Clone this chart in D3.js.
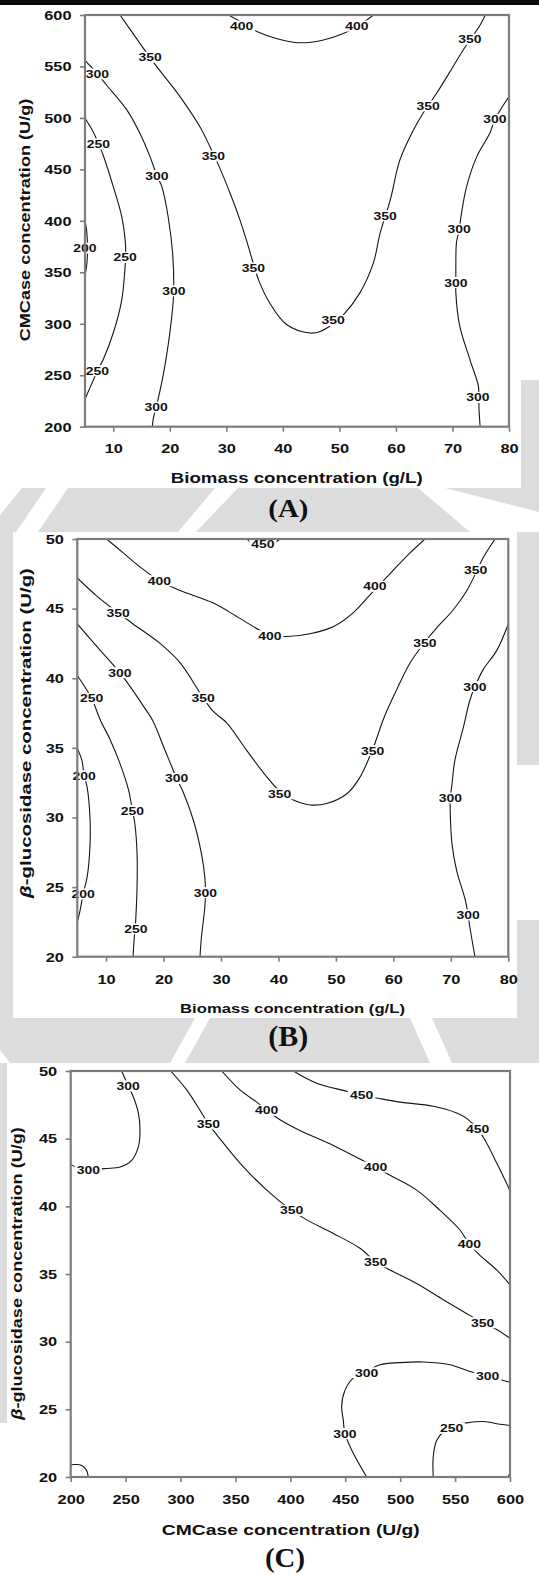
<!DOCTYPE html>
<html>
<head>
<meta charset="utf-8">
<script src="https://cdn.jsdelivr.net/npm/d3@7"></script>
<style>
  body { margin: 0; background: #fff; }
  svg { display: block; }
</style>
</head>
<body>
<svg id="fig" width="539" height="1575"></svg>
<script>
// ---------- tick values ----------
const biomassTicks = [10, 20, 30, 40, 50, 60, 70, 80];
const cmcaseTicks = [200, 250, 300, 350, 400, 450, 500, 550, 600];
const glucosidaseTicks = [20, 25, 30, 35, 40, 45, 50];

// ---------- (A) biomass (g/L) vs CMCase (U/g) : contour traces [x, y] ----------
const a200 = [[5, 400], [5.3, 390], [5.45, 373], [5.3, 357], [5, 347]];
const a250 = [[5, 499.7], [6.3, 488], [7.4, 475], [8.2, 464], [10, 433.3], [11.5, 404.2], [12.1, 381.6],
  [12.2, 364.4], [12.1, 355.6], [11.5, 323.3], [10, 291], [8.2, 265], [7.2, 254.4], [6.5, 245.6], [5.2, 229.4], [5, 227]];
const a300L = [[5, 556], [6, 550], [7.2, 542.7], [8.8, 532], [12.4, 507.8], [14.7, 485.1], [16.5, 462.4], [17.7, 444],
  [18.6, 433.3], [19.7, 404.2], [20.5, 368.6], [20.7, 332], [20.6, 321.7], [20, 290.9], [18.9, 252.1], [17.6, 219],
  [17.1, 208.4], [16.9, 200]];
const a300R = [[80, 520.7], [78.5, 508], [77.5, 498.7], [76.6, 485.1], [74.3, 462.4], [72.5, 433.3], [71.6, 407.5],
  [71.2, 391.9], [70.7, 378.3], [70.6, 355.6], [70.6, 340.1], [70.6, 329.8], [71.3, 297.4], [73.1, 265], [74.6, 239],
  [74.65, 228], [74.7, 216.5], [74.9, 200]];
const a350 = [[11.2, 600], [14, 578], [17.7, 549.8], [21.8, 520.7], [25.3, 491.6], [27.1, 472.1], [28.6, 454.4],
  [30.65, 427], [32.4, 401], [33.9, 375], [35.7, 342.7], [37.7, 320], [40.7, 299], [44.8, 291], [46.6, 292.5],
  [48.9, 300], [50.7, 308.7], [53.6, 329.8], [56, 358.9], [57.2, 388], [59, 420.4], [60.7, 459.2], [63.1, 488.3],
  [64.8, 504.6], [67.2, 524], [70.1, 549.8], [71.9, 566], [74.9, 590.3], [75.8, 600]];
const a400 = [[30.4, 600], [33, 592], [35.4, 584], [39, 577], [43, 573], [47, 575.5], [50.7, 582], [53.5, 590], [56, 600]];
const labelsA = [
  [32.7, 589.3, "400"], [53.1, 589.3, "400"],
  [16.5, 559, "350"], [27.7, 463, "350"], [34.8, 354.1, "350"], [48.9, 303.2, "350"],
  [58.1, 404.9, "350"], [65.7, 511.7, "350"], [73.1, 576.4, "350"],
  [7.2, 542.7, "300"], [17.7, 444, "300"], [20.7, 332, "300"], [17.6, 219, "300"],
  [77.5, 498.7, "300"], [71.2, 391.9, "300"], [70.6, 340.1, "300"], [74.5, 228.4, "300"],
  [7.35, 474.8, "250"], [12.1, 364.4, "250"], [7.2, 254.4, "250"],
  [5, 373.5, "200"]
];

// ---------- (B) biomass (g/L) vs beta-glucosidase (U/g) ----------
const b200 = [[5, 34.96], [5.8, 34.1], [6.2, 33], [6.7, 32.2], [7.2, 30.05], [7.2, 27.9], [6.7, 25.7], [6, 24.5],
  [5.5, 23.35], [5, 22.5]];
const b250 = [[5, 40.2], [7.5, 38.55], [9, 37], [10.7, 35.6], [12.4, 33.9], [13.9, 32], [14.6, 30.5], [15, 29.6],
  [15.4, 27.4], [15.4, 25], [15.2, 22.9], [15.1, 22.2], [14.9, 21.3], [14.7, 20]];
const b300L = [[5, 43.9], [9, 42], [12.4, 40.4], [14.2, 39.4], [16.5, 38], [18.2, 36.9], [20, 35.1], [22.3, 32.8],
  [23.4, 31.85], [25.2, 29.8], [26.6, 27.4], [27.2, 25.7], [27.3, 24.6], [27.2, 23.6], [26.6, 21.4], [26.35, 20]];
const b300R = [[80, 43.9], [78, 42], [75.6, 40.6], [74.2, 39.4], [73.3, 38.4], [72.2, 36.5], [70.7, 34.1], [70.2, 32.4],
  [69.9, 31.4], [69.9, 30.3], [70.2, 28.1], [71, 26.2], [72.5, 24.1], [73, 23], [73.3, 22.15], [74.2, 20]];
const b350 = [[5, 47.2], [8.4, 45.9], [12.1, 44.7], [14.7, 43.9], [19.4, 42.5], [22.9, 41.1], [26.9, 38.6], [28.7, 37.6],
  [31, 36.8], [34.5, 34.8], [38, 32.9], [40.2, 31.9], [42.6, 31.25], [45.5, 30.9], [48.4, 31], [51.9, 31.7],
  [54.2, 32.9], [56.4, 34.9], [58.4, 37.2], [60.6, 39.2], [62.9, 41.1], [65.5, 42.6], [67.5, 43.6], [70.4, 44.9],
  [72.8, 46.3], [75.7, 48.7], [77.7, 50]];
const b400 = [[10.1, 50], [13, 49], [15.9, 48], [19.3, 47], [22.9, 46.3], [28.7, 45.4], [33.3, 44.3], [38.5, 43.1],
  [41.4, 43], [45.5, 43.2], [49.5, 43.7], [53, 44.7], [56.6, 46.3], [59.4, 47.5], [62.9, 49], [65.5, 50]];
const b450 = [[34.5, 50], [35.5, 49.72], [37.3, 49.65], [39.2, 49.72], [40.3, 50]];
const labelsB = [
  [37.3, 49.62, "450"],
  [19.3, 47.0, "400"], [38.5, 43.05, "400"], [56.8, 46.6, "400"],
  [12.1, 44.7, "350"], [26.9, 38.6, "350"], [40.2, 31.7, "350"], [56.4, 34.8, "350"], [65.5, 42.5, "350"], [74.3, 47.8, "350"],
  [12.4, 40.4, "300"], [22.3, 32.8, "300"], [27.3, 24.6, "300"], [74.2, 39.4, "300"], [69.9, 31.4, "300"], [73.0, 23.0, "300"],
  [7.5, 38.55, "250"], [14.6, 30.5, "250"], [15.2, 22.0, "250"],
  [6.2, 33.0, "200"], [6.0, 24.5, "200"]
];

// ---------- (C) CMCase (U/g) vs beta-glucosidase (U/g) ----------
const cCornerL = [[200, 20.9], [205, 20.92], [210, 20.85], [213.5, 20.6], [215.1, 20.35], [216, 20]];
const cCornerR = [[598.3, 20], [600, 20.3]];
const c250 = [[530.1, 20], [530.1, 21.5], [533.2, 22.7], [540, 23.4], [546.9, 23.75], [560.6, 24], [575.7, 24.1],
  [591, 23.9], [600, 23.8]];
const c300a = [[200, 43.1], [205, 42.9], [216, 42.75], [232.8, 42.8], [244.9, 42.9], [255.5, 43.4], [261.6, 44.4],
  [263.1, 45.6], [261.6, 46.9], [257, 48.1], [252.4, 48.9], [246.4, 50]];
const c300b = [[469.5, 20], [457.3, 21.75], [449.7, 23.2], [448.2, 24.2], [446.7, 25.2], [449.7, 26.4], [457.3, 27.3],
  [469.5, 27.8], [481.6, 28.3], [499.8, 28.45], [521, 28.5], [545.3, 28.3], [563.5, 27.8], [579.7, 27.5],
  [590.9, 27.2], [600, 27]];
const c350 = [[291, 50], [305.6, 48.6], [317.7, 47.1], [325.3, 46.1], [332.9, 45.3], [354.1, 43.2], [378.5, 41.2],
  [401.2, 39.7], [414.9, 39], [439.1, 38], [463.4, 36.9], [477.7, 35.9], [490.7, 35.3], [515, 34.3], [539.2, 33.1],
  [560, 32.1], [575.1, 31.4], [587.9, 30.9], [600, 30.25]];
const c400 = [[337.5, 50], [354.1, 48.6], [369.4, 47.7], [378.5, 47.1], [390.6, 46.4], [408.8, 45.6], [439.1, 44.5],
  [463.4, 43.5], [477.7, 42.9], [490.7, 42.3], [515, 41.2], [536.3, 39.7], [554.5, 38.25], [562.9, 37.2],
  [572.4, 36.4], [587.9, 35.3], [600, 34.2]];
const c450 = [[402.7, 50], [424, 49.1], [451.3, 48.5], [465, 48.2], [478.6, 48], [499.8, 47.7], [530.1, 47.4],
  [551.5, 46.9], [560.6, 46.5], [570.6, 45.7], [577.2, 44.9], [587.9, 43.2], [599.1, 41.3], [600, 41.1]];
const labelsC = [
  [252.4, 48.9, "300"], [216, 42.7, "300"], [449.7, 23.2, "300"], [469.5, 27.7, "300"], [579.7, 27.5, "300"],
  [325.3, 46.1, "350"], [401.2, 39.7, "350"], [477.7, 35.9, "350"], [575.1, 31.4, "350"],
  [378.5, 47.1, "400"], [477.7, 42.9, "400"], [562.9, 37.2, "400"],
  [465, 48.2, "450"], [570.6, 45.7, "450"],
  [546.9, 23.6, "250"]
];

// ---------- drawing ----------
const svg = d3.select("#fig");
const SANS = "'Liberation Sans', Arial, Helvetica, sans-serif";
const SERIF = "'Liberation Serif', 'Times New Roman', serif";
const INK = "#111";
const FRAME = "#7c7c7c";
const WM = "#dcdcdc";

// Horizontally fitted text: width is the drawn width along the text direction
function fitText(parent, parts, o) {
  const t = parent.append("text")
    .attr("font-family", o.family || SANS)
    .attr("font-weight", "bold")
    .attr("font-size", o.size)
    .attr("text-anchor", o.anchor || "middle")
    .attr("fill", INK);
  (Array.isArray(parts) ? parts : [[parts, false]]).forEach(([s, it]) => {
    const sp = t.append("tspan").text(s);
    if (it) sp.attr("font-style", "italic");
  });
  const len = t.node().getComputedTextLength();
  const sx = o.width ? o.width / len : 1;
  const rot = o.rotate ? ` rotate(${o.rotate})` : "";
  t.attr("transform", `translate(${o.x},${o.y})${rot} scale(${sx},1)`);
  return { node: t, w: len * sx };
}

// page background and faint watermark showing between the figure blocks
svg.append("rect").attr("width", 539).attr("height", 1575).attr("fill", "#fff");
const wm = svg.append("g");
const poly = (pts, fill) => wm.append("path").attr("d", "M" + pts.map(p => p.join(",")).join("L") + "Z").attr("fill", fill);
wm.append("rect").attr("x", 0).attr("y", 488).attr("width", 539).attr("height", 44).attr("fill", WM);
poly([[0, 488], [22, 488], [0, 515]], "#fff");
poly([[46, 488], [68, 488], [38, 532], [16, 532]], "#fff");
poly([[215, 488], [238, 488], [196, 532], [178, 532]], "#fff");
poly([[418, 488], [445, 488], [539, 512], [539, 532], [470, 532]], "#fff");
wm.append("rect").attr("x", 0).attr("y", 1018).attr("width", 539).attr("height", 45).attr("fill", WM);
poly([[195, 1018], [210, 1018], [185, 1063], [170, 1063]], "#fff");
poly([[410, 1018], [432, 1018], [452, 1063], [430, 1063]], "#fff");
poly([[0, 1050], [10, 1063], [0, 1063]], "#fff");
wm.append("rect").attr("x", 0).attr("y", 532).attr("width", 13).attr("height", 486).attr("fill", WM);
wm.append("rect").attr("x", 517).attr("y", 532).attr("width", 22).attr("height", 233).attr("fill", WM);
wm.append("rect").attr("x", 517).attr("y", 920).attr("width", 22).attr("height", 98).attr("fill", WM);
wm.append("rect").attr("x", 0).attr("y", 1063).attr("width", 7).attr("height", 360).attr("fill", WM);
wm.append("rect").attr("x", 521).attr("y", 380).attr("width", 18).attr("height", 108).attr("fill", WM);
poly([[0, 455], [12, 468], [12, 488], [0, 488]], "#e8e8e8");

// white figure blocks
[[0, 5, 521, 483], [13, 532, 504, 486], [7, 1063, 532, 512]].forEach(([x, y, w, h]) =>
  svg.append("rect").attr("x", x).attr("y", y).attr("width", w).attr("height", h).attr("fill", "#fff"));
// dark band along the top edge
svg.append("rect").attr("x", 0).attr("y", 0).attr("width", 539).attr("height", 5).attr("fill", "#0b0b0b");

const panels = [
  { id: "A", x0: 85, x1: 509, y0: 15, y1: 426.7, xDomain: [5, 80], yDomain: [200, 600],
    xTicks: biomassTicks, yTicks: cmcaseTicks, xLabOff: 26,
    lines: [a200, a250, a300L, a300R, a350, a400], labels: labelsA,
    xTitle: "Biomass concentration (g/L)", xt: { x: 296.7, y: 483, size: 14.5, width: 252 },
    yTitle: [["CMCase concentration (U/g)", false]], yt: { x: 29.5, y: 220, size: 15, width: 243 },
    tag: "(A)", tg: { x: 288.3, y: 517, size: 26, width: 40 } },
  { id: "B", x0: 77.3, x1: 508.3, y0: 539, y1: 956.7, xDomain: [5, 80], yDomain: [20, 50],
    xTicks: biomassTicks, yTicks: glucosidaseTicks, xLabOff: 27,
    lines: [b200, b250, b300L, b300R, b350, b400, b450], labels: labelsB,
    xTitle: "Biomass concentration (g/L)", xt: { x: 292.5, y: 1013, size: 13.5, width: 225 },
    yTitle: [["\u03b2", true], ["-glucosidase concentration (U/g)", false]], yt: { x: 30.5, y: 733, size: 15, width: 330 },
    tag: "(B)", tg: { x: 288.3, y: 1046, size: 29, width: 40 } },
  { id: "C", x0: 70.7, x1: 510, y0: 1071, y1: 1477, xDomain: [200, 600], yDomain: [20, 50],
    xTicks: cmcaseTicks, yTicks: glucosidaseTicks, xLabOff: 27,
    lines: [cCornerL, cCornerR, c250, c300a, c300b, c350, c400, c450], labels: labelsC,
    xTitle: "CMCase concentration (U/g)", xt: { x: 290.8, y: 1535, size: 14.5, width: 258 },
    yTitle: [["\u03b2", true], ["-glucosidase concentration (U/g)", false]], yt: { x: 22, y: 1273.5, size: 14, width: 293 },
    tag: "(C)", tg: { x: 285, y: 1567, size: 28, width: 40 } }
];

// common stretch for tick and contour labels
const probe = svg.append("text").attr("font-family", SANS).attr("font-weight", "bold").attr("font-size", 12).text("600");
const tickSx = 27.3 / probe.node().getComputedTextLength();
probe.attr("font-size", 11).text("400");
const lblSx = 23.3 / probe.node().getComputedTextLength();
probe.remove();

panels.forEach(p => {
  const x = d3.scaleLinear().domain(p.xDomain).range([p.x0, p.x1]);
  const y = d3.scaleLinear().domain(p.yDomain).range([p.y1, p.y0]);
  const g = svg.append("g").attr("class", "panel-" + p.id);

  const clipId = "clip" + p.id;
  g.append("clipPath").attr("id", clipId).append("rect")
    .attr("x", p.x0).attr("y", p.y0).attr("width", p.x1 - p.x0).attr("height", p.y1 - p.y0);

  const line = d3.line().x(d => x(d[0])).y(d => y(d[1])).curve(d3.curveCatmullRom.alpha(0.5));
  g.append("g").attr("clip-path", `url(#${clipId})`)
    .selectAll("path").data(p.lines).join("path")
    .attr("d", line).attr("fill", "none").attr("stroke", "#151515").attr("stroke-width", 1.1);

  // contour value labels with a white gap behind them
  const lg = g.append("g");
  p.labels.forEach(([lx, ly, s]) => {
    const cell = lg.append("g").attr("transform", `translate(${x(lx)},${y(ly)})`);
    const rect = cell.append("rect").attr("fill", "#fff");
    const t = cell.append("text")
      .attr("font-family", SANS).attr("font-weight", "bold").attr("font-size", 11)
      .attr("text-anchor", "middle").attr("fill", INK)
      .attr("transform", `translate(0,4) scale(${lblSx},1)`).text(s);
    const w = t.node().getComputedTextLength() * lblSx + 4;
    rect.attr("x", -w / 2).attr("y", -5.5).attr("width", w).attr("height", 11);
  });

  // axes
  const yAxis = g.append("g").attr("transform", `translate(${p.x0},0)`)
    .call(d3.axisLeft(y).tickValues(p.yTicks).tickSize(5).tickSizeOuter(0).tickFormat(d3.format("d")));
  const xAxis = g.append("g").attr("transform", `translate(0,${p.y1})`)
    .call(d3.axisBottom(x).tickValues(p.xTicks).tickSize(5).tickSizeOuter(0).tickFormat(d3.format("d")));
  [yAxis, xAxis].forEach(a => {
    a.select(".domain").remove();
    a.selectAll(".tick line").attr("stroke", FRAME).attr("stroke-width", 1.6);
    a.selectAll(".tick text").attr("font-family", SANS).attr("font-weight", "bold")
      .attr("font-size", 12).attr("fill", INK).attr("x", 0).attr("y", 0).attr("dy", null);
  });
  yAxis.selectAll(".tick text").attr("text-anchor", "end")
    .attr("transform", `translate(-13.5,4.3) scale(${tickSx},1)`);
  xAxis.selectAll(".tick text").attr("text-anchor", "middle")
    .attr("transform", `translate(0,${p.xLabOff}) scale(${tickSx},1)`);

  // plot frame
  g.append("rect").attr("x", p.x0).attr("y", p.y0).attr("width", p.x1 - p.x0).attr("height", p.y1 - p.y0)
    .attr("fill", "none").attr("stroke", FRAME).attr("stroke-width", 2.2);

  // titles
  fitText(g, p.xTitle, p.xt);
  fitText(g, p.yTitle, Object.assign({ rotate: -90 }, p.yt));
  fitText(g, p.tag, Object.assign({ family: SERIF }, p.tg));
});
</script>
</body>
</html>
